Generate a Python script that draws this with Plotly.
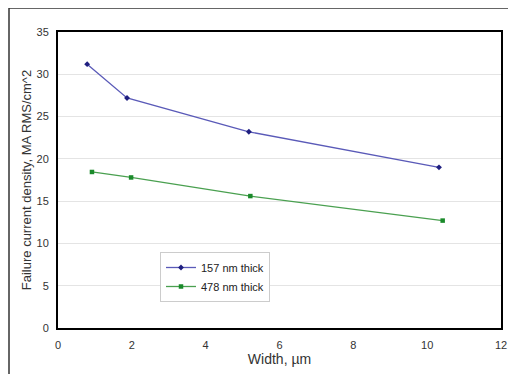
import plotly.graph_objects as go

width_157 = [0.79, 1.87, 5.17, 10.32]
density_157 = [31.2, 27.2, 23.2, 19.0]
width_478 = [0.92, 1.98, 5.21, 10.42]
density_478 = [18.45, 17.8, 15.6, 12.7]
series_names = ["157 nm thick", "478 nm thick"]

# page body has an 8px default margin; figure is sized to fit the 516x374 window
OFF = 8
W, H = 516 - OFF, 374 - OFF
L, R, T, B = 58 - OFF, 516 - 501, 32 - OFF, 374 - 328
PW, PH = W - L - R, H - T - B

fig = go.Figure()
fig.add_trace(go.Scatter(x=width_157, y=density_157, mode="lines+markers", name=series_names[0],
                         line=dict(color="#5a5ab8", width=1.3),
                         marker=dict(symbol="diamond", size=4.5, color="#1f1f80")))
fig.add_trace(go.Scatter(x=width_478, y=density_478, mode="lines+markers", name=series_names[1],
                         line=dict(color="#4aa050", width=1.3),
                         marker=dict(symbol="square", size=4.5, color="#1a8a2a")))

fig.update_layout(
    width=W, height=H,
    margin=dict(l=L, r=R, t=T, b=B),
    paper_bgcolor="white", plot_bgcolor="white",
    font=dict(family="Liberation Sans, Arial, sans-serif", color="#222"),
    showlegend=True,
    legend=dict(x=(160 - 58) / PW, y=(328 - 252) / PH, xanchor="left", yanchor="top",
                bgcolor="white", bordercolor="#cccccc", borderwidth=1,
                font=dict(size=11, color="#222"), itemwidth=30, tracegroupgap=0),
    xaxis=dict(range=[0, 12], dtick=2, showgrid=False, zeroline=False, automargin=False,
               showline=True, mirror=True, linecolor="black", linewidth=2,
               ticks="outside", ticklen=6, tickcolor="rgba(0,0,0,0)",
               tickfont=dict(size=11, color="#333"),
               title=dict(text="Width, µm", font=dict(size=14, color="#333"), standoff=4)),
    yaxis=dict(range=[0, 35], dtick=5, showgrid=True, gridcolor="#e4e4e4", zeroline=False, automargin=False,
               showline=True, mirror=True, linecolor="black", linewidth=2,
               ticks="outside", ticklen=5, tickcolor="rgba(0,0,0,0)",
               tickfont=dict(size=11, color="#333"),
               title=dict(text="Failure current density, MA RMS/cm^2", font=dict(size=13, color="#333"), standoff=2)),
)

xl = (9 - 58) / PW
yt = (328 - 8) / PH
fig.add_shape(type="line", xref="paper", yref="paper", x0=xl, x1=xl, y0=-0.3, y1=yt,
              line=dict(color="#333", width=1.5))
fig.add_shape(type="line", xref="paper", yref="paper", x0=xl, x1=1.2, y0=yt, y1=yt,
              line=dict(color="#333", width=1.5))

fig.write_html("out.html")
